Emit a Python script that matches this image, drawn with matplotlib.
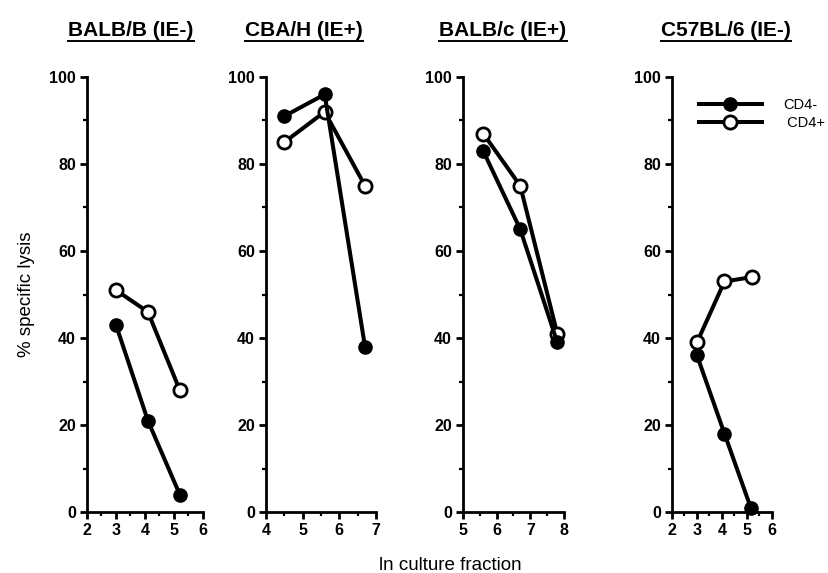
import numpy as np
import matplotlib
matplotlib.use('Agg')
import matplotlib.pyplot as plt
from matplotlib.lines import Line2D
from matplotlib.ticker import MultipleLocator

plt.rcParams['font.family'] = ['Liberation Sans', 'DejaVu Sans']

titles = ['BALB/B (IE-)', 'CBA/H (IE+)', 'BALB/c (IE+)', 'C57BL/6 (IE-)']
xlims = [(2, 6), (4, 7), (5, 8), (2, 6)]

# ln culture fraction / % specific lysis
x_neg = [[3.0, 4.1, 5.2], [4.5, 5.6, 6.7], [5.6, 6.7, 7.8], [3.0, 4.1, 5.15]]
cd4_neg = [[43, 21, 4], [91, 96, 38], [83, 65, 39], [36, 18, 1]]
x_pos = [[3.0, 4.1, 5.2], [4.5, 5.6, 6.7], [5.6, 6.7, 7.8], [3.0, 4.1, 5.2]]
cd4_pos = [[51, 46, 28], [85, 92, 75], [87, 75, 41], [39, 53, 54]]

W, H = 829, 573
fig = plt.figure(figsize=(W / 100, H / 100), dpi=100)

# pixel extents of each panel (left, right)
lefts = [87, 266, 463, 672]
rights = [203, 376, 564, 772]
top, bottom = 77, 512

LW, MS = 2.9, 9.5

axes = []
for i in range(4):
    ax = fig.add_axes([lefts[i] / W, (H - bottom) / H,
                       (rights[i] - lefts[i]) / W, (bottom - top) / H])
    ax.plot(x_pos[i], cd4_pos[i], '-o', color='black', lw=LW, ms=MS,
            mfc='white', mec='black', mew=2.0, clip_on=False, zorder=3,
            label='CD4+')
    ax.plot(x_neg[i], cd4_neg[i], '-o', color='black', lw=LW, ms=MS,
            mfc='black', mec='black', clip_on=False, zorder=4,
            label='CD4-')
    ax.set_xlim(*xlims[i])
    ax.set_ylim(0, 100)
    ax.xaxis.set_major_locator(MultipleLocator(1))
    ax.xaxis.set_minor_locator(MultipleLocator(0.5))
    ax.yaxis.set_major_locator(MultipleLocator(20))
    ax.yaxis.set_minor_locator(MultipleLocator(10))
    for s in ['top', 'right']:
        ax.spines[s].set_visible(False)
    for s in ['left', 'bottom']:
        ax.spines[s].set_linewidth(2.0)
    ax.tick_params(which='major', length=5, width=2.0, labelsize=11.5, pad=3)
    ax.tick_params(which='minor', length=3, width=1.6)
    for lab in ax.get_xticklabels() + ax.get_yticklabels():
        lab.set_fontweight('bold')
    axes.append(ax)

axes[0].set_ylabel('% specific lysis', fontsize=13.5, labelpad=10)

# legend in last panel
h_neg = Line2D([], [], color='black', lw=LW, marker='o', ms=MS, mfc='black', mec='black')
h_pos = Line2D([], [], color='black', lw=LW, marker='o', ms=MS, mfc='white', mec='black', mew=2.0)
axes[3].legend([h_neg, h_pos], ['CD4-', ' CD4+'], loc='upper left',
               bbox_to_anchor=(0.21, 0.965), frameon=False, fontsize=10.5,
               handlelength=4.3, labelspacing=0.25, handletextpad=1.5,
               borderaxespad=0)

fig.text(450 / W, 1 - 565 / H, 'ln culture fraction', ha='center', va='center',
         fontsize=13.5)

title_x = [131, 304, 503, 726]
fig.canvas.draw()
renderer = fig.canvas.get_renderer()
for t, tx in zip(titles, title_x):
    txt = fig.text(tx / W, 1 - 30 / H, t, ha='center', va='center',
                   fontsize=15, fontweight='bold')
    bb = txt.get_window_extent(renderer=renderer)
    yline = bb.y0 - 1.0
    fig.add_artist(Line2D([bb.x0 / W, bb.x1 / W], [yline / H, yline / H],
                          color='black', lw=1.4, transform=fig.transFigure))

fig.savefig('out.png', dpi=100)
